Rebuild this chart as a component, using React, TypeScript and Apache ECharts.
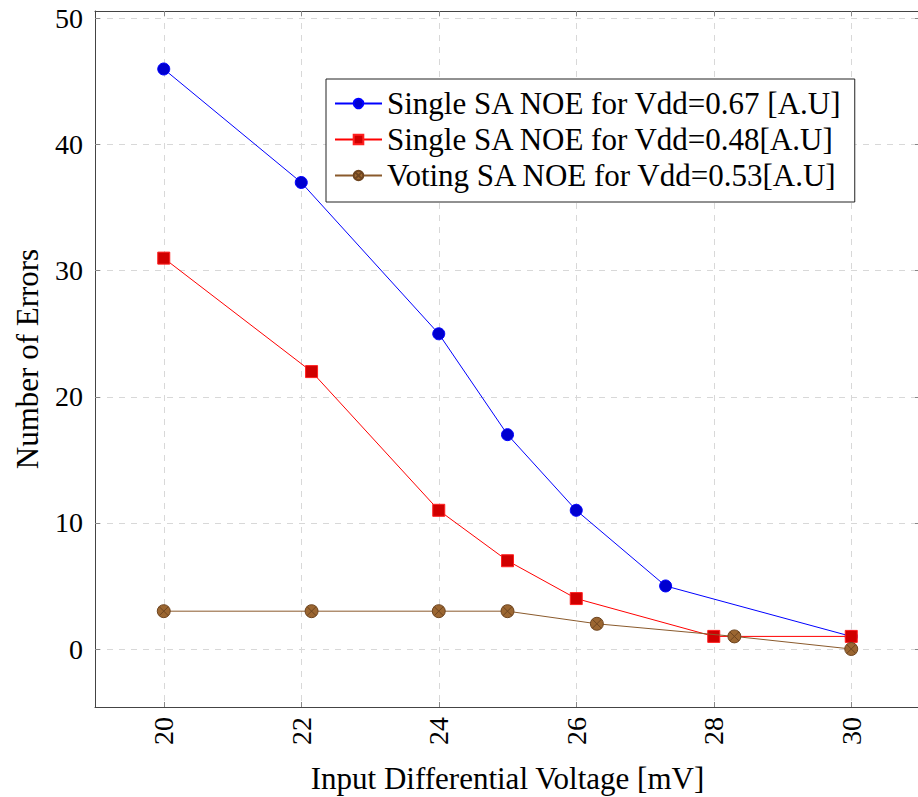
import React, { useEffect, useRef } from "react";
import * as echarts from "echarts";

const xTicks = [20, 22, 24, 26, 28, 30];
const yTicks = [0, 10, 20, 30, 40, 50];

const blueName = "Single SA NOE for Vdd=0.67 [A.U]";
const blueX = [20, 22, 24, 25, 26, 27.3, 30];
const blueY = [46, 37, 25, 17, 11, 5, 1];

const redName = "Single SA NOE for Vdd=0.48[A.U]";
const redX = [20, 22.15, 24, 25, 26, 28, 30];
const redY = [31, 22, 11, 7, 4, 1, 1];

const brownName = "Voting SA NOE for Vdd=0.53[A.U]";
const brownX = [20, 22.15, 24, 25, 26.3, 28.3, 30];
const brownY = [3, 3, 3, 3, 2, 1, 0];

const FONT = "Liberation Serif";
const otimes =
  "path://M0,-10 A10,10 0 1,1 0,10 A10,10 0 1,1 0,-10 Z M-7,-7 L7,7 M-7,7 L7,-7";

function pairs(xs: number[], ys: number[]) {
  return xs.map((x, i) => [x, ys[i]]);
}

export default function App() {
  const ref = useRef<HTMLDivElement>(null);
  useEffect(() => {
    if (!ref.current) return;
    const chart = echarts.init(ref.current, undefined, { renderer: "svg" });
    const tickStyle = { show: true, inside: true, length: 5, lineStyle: { color: "#888", width: 1 } };
    const frame = { show: true, onZero: false, lineStyle: { color: "#444", width: 1 } };
    const grid = { show: true, lineStyle: { color: "#d8d8d8", type: [6, 6], width: 1 } };
    chart.setOption({
      animation: false,
      textStyle: { fontFamily: FONT },
      grid: { left: 95, top: 11, right: -2, bottom: 90, containLabel: false, outerBoundsMode: "none" },
      xAxis: [
        {
          type: "value",
          min: 19,
          max: 31,
          position: "bottom",
          axisLine: frame,
          axisTick: { ...tickStyle, customValues: xTicks },
          axisLabel: {
            customValues: xTicks,
            rotate: 90,
            margin: 10,
            fontSize: 28,
            color: "#000",
            fontFamily: FONT,
          },
          splitLine: grid,
          name: "Input Differential Voltage [mV]",
          nameLocation: "middle",
          nameGap: 56,
          nameTextStyle: { fontSize: 31, color: "#000", fontFamily: FONT },
        },
        {
          type: "value",
          min: 19,
          max: 31,
          position: "top",
          axisLine: frame,
          axisTick: { ...tickStyle, customValues: xTicks },
          axisLabel: { show: false, customValues: xTicks },
          splitLine: { show: false },
        },
      ],
      yAxis: [
        {
          type: "value",
          min: -4.6,
          max: 50.6,
          position: "left",
          axisLine: frame,
          axisTick: { ...tickStyle, customValues: yTicks },
          axisLabel: { customValues: yTicks, margin: 12, fontSize: 28, color: "#000", fontFamily: FONT },
          splitLine: grid,
          name: "Number of Errors",
          nameLocation: "middle",
          nameGap: 52,
          nameTextStyle: { fontSize: 31, color: "#000", fontFamily: FONT },
        },
        {
          type: "value",
          min: -4.6,
          max: 50.6,
          position: "right",
          axisLine: frame,
          axisTick: { ...tickStyle, customValues: yTicks },
          axisLabel: { show: false, customValues: yTicks },
          splitLine: { show: false },
        },
      ],
      legend: {
        orient: "vertical",
        left: 326,
        top: 79,
        backgroundColor: "#fff",
        borderColor: "#222",
        borderWidth: 1,
        padding: [9, 12, 11, 8],
        itemGap: 5,
        itemWidth: 47,
        itemHeight: 12,
        textStyle: { fontSize: 31, color: "#000", fontFamily: FONT },
        data: [blueName, redName, brownName],
      },
      series: [
        {
          name: blueName,
          type: "line",
          data: pairs(blueX, blueY),
          symbol: "circle",
          symbolSize: 12,
          lineStyle: { color: "#0000ff", width: 1 },
          itemStyle: { color: "#0000d0", borderColor: "#0000ff", borderWidth: 1 },
          z: 3,
        },
        {
          name: redName,
          type: "line",
          data: pairs(redX, redY),
          symbol: "rect",
          symbolSize: 12,
          lineStyle: { color: "#ff0000", width: 1 },
          itemStyle: { color: "#d00000", borderColor: "#ff2020", borderWidth: 1 },
          z: 4,
        },
        {
          name: brownName,
          type: "line",
          data: pairs(brownX, brownY),
          symbol: otimes,
          symbolSize: 13,
          lineStyle: { color: "#8a5a2c", width: 1 },
          itemStyle: { color: "#9b6631", borderColor: "#6e4520", borderWidth: 1 },
          z: 5,
        },
      ],
    });
    return () => chart.dispose();
  }, []);
  return <div ref={ref} style={{ width: 918, height: 797, position: "absolute", left: 0, top: 0 }} />;
}
